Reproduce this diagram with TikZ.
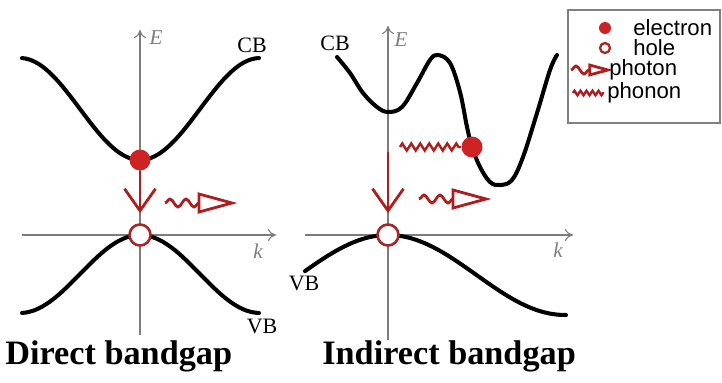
\documentclass[tikz,border=0pt]{standalone}
\usepackage{fontspec}
\setmainfont{Liberation Serif}
\setsansfont{Liberation Sans}
\usetikzlibrary{arrows.meta,decorations.pathmorphing}

\definecolor{elecred}{RGB}{205,35,35}
\definecolor{holered}{RGB}{165,40,40}
\definecolor{axisgray}{RGB}{125,125,125}

\tikzset{
  band/.style={line width=2.3pt,line cap=round},
  axis/.style={axisgray,line width=0.6pt,-{To[length=1.6mm,width=2.4mm]}},
  electron/.style={circle,fill=elecred,minimum size=0.42cm,inner sep=0pt},
  hole/.style={circle,draw=holered,line width=1.5pt,fill=white,minimum size=0.42cm,inner sep=0pt},
  drop/.style={elecred!85!black,line width=1.6pt,-{Straight Barb[length=4.4mm,width=6.2mm]}},
  wave/.style={decorate,decoration={snake,amplitude=0.8mm,segment length=3.2mm,post length=0mm}},
  phonon/.style={elecred!85!black,line width=1.4pt,decorate,
    decoration={zigzag,amplitude=0.7mm,segment length=1.8mm,post length=0mm}},
  photon/.pic={
    \draw[elecred!85!black,line width=1.6pt,wave] (0,0) -- (34,0);
    \draw[elecred!85!black,line width=1.6pt,fill=white,line join=miter]
      (34,-9) -- (67,0) -- (34,9) -- cycle;
  },
  axlab/.style={axisgray,font=\fontsize{12}{12}\selectfont\itshape},
  bandlab/.style={font=\fontsize{12.5}{13}\selectfont},
  title/.style={font=\fontsize{19.5}{20}\selectfont\bfseries,anchor=base west,inner sep=0pt},
  legtext/.style={font=\sffamily\fontsize{12.6}{12}\selectfont,anchor=west,inner sep=0pt}
}

\begin{document}
\begin{tikzpicture}[x=0.02cm,y=0.02cm]
  \useasboundingbox (0,0) rectangle (722,-382);
  % direct bandgap
  \draw[axis] (140,-335) -- (140,-30);
  \draw[axis] (22,-235) -- (276,-235);
  \node[axlab] (E1) at (156,-38) {E};
  \node[axlab] (k1) at (258,-251) {k};
  \draw[band,domain=22:259,samples=60] plot (\x,{-109-51*cos(1.5*(\x-140))});
  \draw[band,domain=22:259,samples=60] plot (\x,{-274+39*cos(1.5*(\x-140))});
  \node[bandlab] (cb1) at (252,-45) {CB};
  \node[bandlab] (vb1) at (262,-326) {VB};
  \node[electron] (e1) at (140,-160) {};
  \node[hole] (h1) at (140,-235) {};
  \draw[drop,shorten >=2mm] (e1) -- (h1);
  \pic at (165,-203) {photon};
  \node[title] (t1) at (5,-364) {Direct bandgap};
  % indirect bandgap
  \draw[axis] (388,-340) -- (388,-26);
  \draw[axis] (305,-235) -- (573,-235);
  \node[axlab] (E2) at (401,-40) {E};
  \node[axlab] (k2) at (558,-250) {k};
  \draw[band] plot[smooth,tension=0.6] coordinates {(337,-57) (350,-73) (363,-93)
    (377,-107) (388,-112) (402,-107) (417,-83) (430,-60) (438,-55) (450,-63)
    (460,-92) (467,-127) (472,-147) (480,-167) (490,-182) (500,-185) (512,-180)
    (523,-157) (537,-113) (550,-70) (557,-55)};
  \draw[band,domain=305:566,samples=60] plot (\x,{-275+40*cos(1.017*(\x-388))});
  \node[bandlab] (cb2) at (335,-43) {CB};
  \node[bandlab] (vb2) at (304,-283) {VB};
  \node[electron] (e2) at (472,-147) {};
  \node[hole] (h2) at (388,-235) {};
  \coordinate (c2) at (388,-152);
  \coordinate (p2) at (400,-147);
  \draw[phonon] (p2) -- (e2);
  \draw[drop,shorten >=2mm] (c2) -- (h2);
  \pic at (419,-199) {photon};
  \node[title] (t2) at (322,-364) {Indirect bandgap};
  % legend
  \draw[gray,line width=0.8pt] (568,-10) rectangle (720,-123);
  \node[electron,minimum size=0.24cm] (le) at (605,-28) {};
  \node[hole,minimum size=0.2cm,line width=1.3pt] (lh) at (605,-48) {};
  \pic[scale=0.55] at (571,-70) {photon};
  \draw[phonon,decoration={zigzag,amplitude=0.45mm,segment length=1.2mm,post length=0mm}] (573,-93) -- (604,-93);
  \node[legtext] (te) at (633,-28) {electron};
  \node[legtext] (th) at (633,-48) {hole};
  \node[legtext] (tp) at (609,-70) {photon};
  \node[legtext] (tn) at (607,-93) {phonon};
\end{tikzpicture}
\end{document}
